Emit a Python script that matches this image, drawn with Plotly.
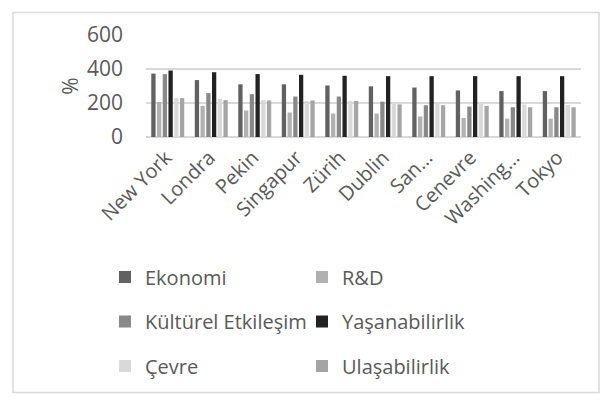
import plotly.graph_objects as go

cities = ["New York", "Londra", "Pekin", "Singapur", "Zürih", "Dublin",
          "San...", "Cenevre", "Washing...", "Tokyo"]
ekonomi = [373, 335, 310, 310, 303, 298, 291, 274, 270, 270]
rd = [206, 183, 156, 144, 138, 138, 121, 112, 108, 108]
kultur = [370, 258, 252, 238, 238, 208, 187, 179, 175, 175]
yasan = [391, 381, 370, 366, 360, 358, 358, 358, 358, 358]
cevre = [229, 225, 217, 212, 212, 200, 200, 196, 192, 188]
ulas = [229, 217, 215, 215, 212, 192, 187, 183, 175, 175]

series = [
    ("Ekonomi", ekonomi, "#616161"),
    ("R&D", rd, "#b1b1b1"),
    ("Kültürel Etkileşim", kultur, "#888888"),
    ("Yaşanabilirlik", yasan, "#222222"),
    ("Çevre", cevre, "#d9d9d9"),
    ("Ulaşabilirlik", ulas, "#a5a5a5"),
]

FONT = "Open Sans, Segoe UI, sans-serif"
TXT = "#595959"

fig = go.Figure()
for i, (name, vals, col) in enumerate(series):
    fig.add_trace(go.Bar(x=cities, y=vals, name=name, marker_color=col,
                         marker_line_width=0, legendgroup="g%d" % i))

# page body has an 8px default margin; figure sized to fill the rest of the window
OFF = 8
W, H = 612 - OFF, 406 - OFF
L, R, T, B = 146 - OFF, 31, 32 - OFF, 269
pw, ph = W - L - R, H - T - B

def px(xw):  # window x -> paper x
    return (xw - OFF - L) / pw

def py(yw):  # window y -> paper y
    return (H - B - (yw - OFF)) / ph

fig.update_layout(
    width=W, height=H,
    margin=dict(l=L, r=R, t=T, b=B),
    paper_bgcolor="white", plot_bgcolor="white",
    font=dict(family=FONT, size=20, color=TXT),
    barmode="group", bargap=0.21, bargroupgap=0.25,
    legend=dict(orientation="h", x=px(105), y=py(261), xanchor="left", yanchor="top",
                entrywidth=152, entrywidthmode="pixels", tracegroupgap=15.5,
                font=dict(family=FONT, size=20, color=TXT)),
    xaxis=dict(tickangle=-45, showgrid=False, showline=False, ticks="",
               tickfont=dict(size=20), ticklabelstandoff=4, ticklabelshift=-2),
    yaxis=dict(range=[0, 600], tickvals=[0, 200, 400, 600], showgrid=True,
               gridcolor="#d9d9d9", gridwidth=1.5, zeroline=True, zerolinecolor="#d9d9d9",
               zerolinewidth=2, showline=False, ticks="", ticklabelstandoff=22,
               tickfont=dict(size=21),
               title=dict(text="%", font=dict(size=21), standoff=2)),
    shapes=[dict(type="rect", xref="paper", yref="paper",
                 x0=px(13), x1=px(599), y0=py(400), y1=py(8.8),
                 line=dict(color="#d9d9d9", width=1.5), fillcolor="rgba(0,0,0,0)")],
)

fig.write_html("out.html")
